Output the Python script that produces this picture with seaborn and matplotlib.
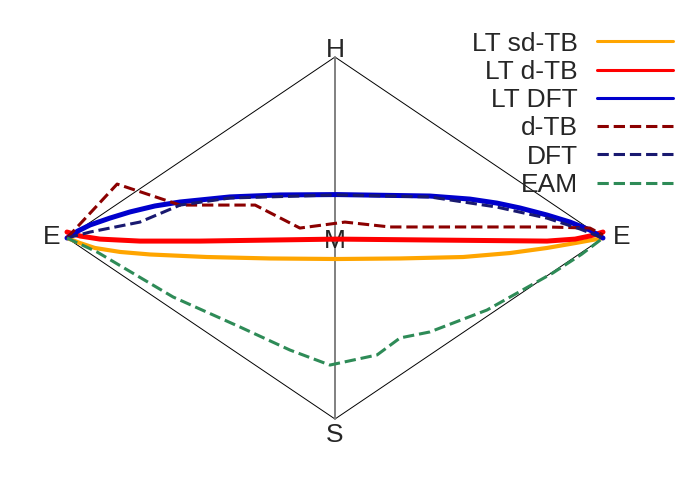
import matplotlib
matplotlib.use("Agg")
import matplotlib.pyplot as plt
import seaborn as sns

sns.set_style("white")
plt.rcParams['font.family'] = ['Liberation Sans', 'DejaVu Sans']

# path coordinate: -1 = E (left), 0 = M, 1 = E (right); value: +1 towards H, -1 towards S
lt_sdtb_x = [-1.0, -0.951, -0.896, -0.802, -0.690, -0.478, -0.243, 0.007, 0.243, 0.478, 0.653, 0.791, 0.896, 1.0]
lt_sdtb_y = [0.0, -0.028, -0.055, -0.077, -0.091, -0.105, -0.113, -0.116, -0.113, -0.105, -0.083, -0.055, -0.028, 0.0]

lt_dtb_x = [-1.0, -0.951, -0.877, -0.728, -0.504, 0.007, 0.354, 0.791, 0.896, 0.951, 1.0]
lt_dtb_y = [0.033, 0.011, -0.006, -0.017, -0.017, -0.006, -0.011, -0.017, -0.006, 0.011, 0.033]

lt_dft_x = [-1.0, -0.959, -0.914, -0.840, -0.765, -0.672, -0.578, -0.392, -0.205, 0.007,
            0.354, 0.504, 0.604, 0.690, 0.791, 0.877, 0.951, 1.0]
lt_dft_y = [0.0, 0.039, 0.072, 0.110, 0.144, 0.177, 0.199, 0.227, 0.238, 0.240,
            0.232, 0.215, 0.193, 0.166, 0.127, 0.088, 0.044, 0.0]

dtb_x = [-1.0, -0.813, -0.578, -0.298, -0.131, 0.037, 0.205, 0.791, 0.951, 1.0]
dtb_y = [0.0, 0.298, 0.182, 0.182, 0.055, 0.088, 0.061, 0.061, 0.055, 0.017]

dft_x = [-1.0, -0.914, -0.728, -0.578, -0.392, 0.007, 0.354, 0.604, 0.791, 0.914, 1.0]
dft_y = [0.0, 0.033, 0.088, 0.182, 0.221, 0.238, 0.227, 0.171, 0.110, 0.050, 0.0]

eam_x = [-1.0, -0.888, -0.604, -0.354, -0.168, -0.019, 0.157, 0.243, 0.354, 0.567, 0.813, 0.920, 1.0]
eam_y = [0.0, -0.077, -0.326, -0.492, -0.619, -0.702, -0.646, -0.552, -0.519, -0.398, -0.193, -0.090, 0.0]

series = [
    ("LT sd-TB", lt_sdtb_x, lt_sdtb_y, "orange", "-", 3.0),
    ("LT d-TB", lt_dtb_x, lt_dtb_y, "red", "-", 3.6),
    ("LT DFT", lt_dft_x, lt_dft_y, "mediumblue", "-", 3.6),
    ("d-TB", dtb_x, dtb_y, "darkred", "--", 2.2),
    ("DFT", dft_x, dft_y, "midnightblue", "--", 2.2),
    ("EAM", eam_x, eam_y, "seagreen", "--", 2.2),
]

fig = plt.figure(figsize=(7, 4.8), dpi=100)
ax = fig.add_axes([0, 0, 1, 1])

# diamond frame E-H-E-S and the vertical H-S line
ax.plot([-1, 0, 1, 0, -1], [0, 1, 0, -1, 0], color="black", lw=0.7, zorder=1)
ax.plot([0, 0], [1, -1], color="gray", lw=1.4, zorder=1)

for name, xs, ys, col, ls, lw in series:
    sns.lineplot(x=xs, y=ys, color=col, linestyle=ls, linewidth=lw,
                 label=name, ax=ax, zorder=3)

fs = 19
ax.text(-1.056, 0.006, "E", fontsize=fs, ha="center", va="center")
ax.text(1.071, 0.006, "E", fontsize=fs, ha="center", va="center")
ax.text(0.0, 1.04, "H", fontsize=fs, ha="center", va="center")
ax.text(0.0, -1.09, "S", fontsize=fs, ha="center", va="center")
ax.text(0.0, -0.017, "M", fontsize=fs, ha="center", va="center", zorder=2)

leg = ax.legend(loc="upper right", bbox_to_anchor=(0.976, 0.956), markerfirst=False,
                frameon=False, fontsize=fs, handlelength=2.85, handletextpad=0.75,
                labelspacing=0.16, borderaxespad=0)
for line in leg.get_lines():
    line.set_linewidth(2.2)

ax.set_xlim(-1.25, 1.362)
ax.set_ylim(-1.337, 1.315)
ax.axis("off")

fig.savefig("out.png", dpi=100)
